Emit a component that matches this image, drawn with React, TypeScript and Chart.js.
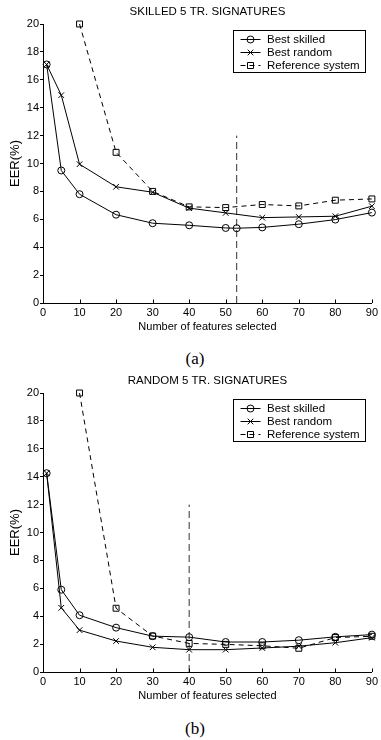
import React, { useEffect, useRef } from 'react';
import { Chart, registerables } from 'chart.js';

Chart.register(...registerables);

// ---------- Data ----------
const skilledTopX = [1, 5, 10, 20, 30, 40, 50, 53, 60, 70, 80, 90];
const skilledTopEER = [17.1, 9.5, 7.8, 6.33, 5.72, 5.57, 5.38, 5.36, 5.42, 5.65, 5.98, 6.48];
const randomTopX = [1, 5, 10, 20, 30, 40, 50, 60, 70, 80, 90];
const randomTopEER = [17.1, 14.9, 9.95, 8.33, 7.94, 6.8, 6.46, 6.12, 6.17, 6.22, 6.94];
const referenceTopX = [10, 20, 30, 40, 50, 60, 70, 80, 90];
const referenceTopEER = [20, 10.8, 8.0, 6.89, 6.84, 7.06, 6.96, 7.37, 7.46];
const selectedTopX = 53;

const skilledBottomX = [1, 5, 10, 20, 30, 40, 50, 60, 70, 80, 90];
const skilledBottomEER = [14.25, 5.9, 4.07, 3.18, 2.57, 2.5, 2.15, 2.15, 2.28, 2.52, 2.68];
const randomBottomX = [1, 5, 10, 20, 30, 40, 50, 60, 70, 80, 90];
const randomBottomEER = [14.25, 4.6, 3.0, 2.22, 1.77, 1.6, 1.6, 1.72, 1.85, 2.1, 2.46];
const referenceBottomX = [10, 20, 30, 40, 50, 60, 70, 80, 90];
const referenceBottomEER = [20, 4.57, 2.58, 2.05, 1.98, 1.88, 1.7, 2.47, 2.56];
const selectedBottomX = 40;

const selectionLineTop = 12;

const seriesLabels = ['Best skilled', 'Best random', 'Reference system'];
const chartTitles = ['SKILLED 5 TR. SIGNATURES', 'RANDOM 5 TR. SIGNATURES'];
const captions = ['(a)', '(b)'];
const xAxisTitle = 'Number of features selected';
const yAxisTitle = 'EER(%)';

// ---------- Styling ----------
const SANS = "'Liberation Sans', Arial, sans-serif";
const SERIF = "'Liberation Serif', 'Times New Roman', serif";
const W = 381;
const H = 340;

function pts(xs: number[], ys: number[]) {
  return xs.map((x, i) => ({ x, y: ys[i] }));
}

function drawMarker(ctx: CanvasRenderingContext2D, style: string, x: number, y: number) {
  ctx.beginPath();
  if (style === 'circle') {
    ctx.arc(x, y, 3.5, 0, Math.PI * 2);
  } else if (style === 'crossRot') {
    const r = 2.8;
    ctx.moveTo(x - r, y - r);
    ctx.lineTo(x + r, y + r);
    ctx.moveTo(x + r, y - r);
    ctx.lineTo(x - r, y + r);
  } else if (style === 'rect') {
    ctx.rect(x - 3, y - 3, 6, 6);
  }
  ctx.stroke();
}

const legendBox = {
  id: 'legendBox',
  afterDatasetsDraw(chart: any) {
    const { ctx, chartArea } = chart;
    const ds = chart.data.datasets.filter((d: any) => d.label);
    const w = 132;
    const h = 42;
    const x0 = Math.round(chartArea.right - 6.5 - w) + 0.5;
    const y0 = Math.round(chartArea.top + 6) + 0.5;
    ctx.save();
    ctx.fillStyle = '#fff';
    ctx.fillRect(x0, y0, w, h);
    ctx.strokeStyle = '#000';
    ctx.lineWidth = 1;
    ctx.strokeRect(x0, y0, w, h);
    ds.forEach((d: any, i: number) => {
      const y = Math.round(y0 + 8 + i * 13.35) + 0.5;
      ctx.setLineDash(d.borderDash || []);
      ctx.beginPath();
      ctx.moveTo(x0 + 7, y);
      ctx.lineTo(x0 + 27, y);
      ctx.stroke();
      ctx.setLineDash([]);
      drawMarker(ctx, d.pointStyle, x0 + 17, y);
      ctx.fillStyle = '#000';
      ctx.font = `11.5px ${SANS}`;
      ctx.textBaseline = 'middle';
      ctx.textAlign = 'left';
      ctx.fillText(d.label, x0 + 33.5, y + 0.5);
    });
    ctx.restore();
  },
};

const inwardXTicks = {
  id: 'inwardXTicks',
  afterDraw(chart: any) {
    const { ctx, chartArea: a, scales } = chart;
    ctx.save();
    ctx.strokeStyle = '#000';
    ctx.lineWidth = 1;
    ctx.beginPath();
    for (const t of scales.x.ticks) {
      const px = Math.round(scales.x.getPixelForValue(t.value)) + 0.5;
      ctx.moveTo(px, a.bottom);
      ctx.lineTo(px, a.bottom - 3.5);
    }
    ctx.stroke();
    ctx.restore();
  },
};

function EERChart(props: {
  title: string;
  skilledX: number[];
  skilledY: number[];
  randomX: number[];
  randomY: number[];
  refX: number[];
  refY: number[];
  selX: number;
}) {
  const ref = useRef<HTMLCanvasElement | null>(null);
  useEffect(() => {
    if (!ref.current) return;
    const base = {
      borderColor: '#000',
      borderWidth: 1,
      pointBorderColor: '#000',
      pointBackgroundColor: 'rgba(0,0,0,0)',
      pointBorderWidth: 1,
      tension: 0,
      clip: false as any,
    };
    const chart = new Chart(ref.current, {
      type: 'line',
      data: {
        datasets: [
          {
            ...base,
            label: seriesLabels[0],
            data: pts(props.skilledX, props.skilledY),
            pointStyle: 'circle',
            pointRadius: 3.5,
          },
          {
            ...base,
            label: seriesLabels[1],
            data: pts(props.randomX, props.randomY),
            pointStyle: 'crossRot',
            pointRadius: 4,
          },
          {
            ...base,
            label: seriesLabels[2],
            data: pts(props.refX, props.refY),
            pointStyle: 'rect',
            pointRadius: 4.2,
            borderDash: [5, 4],
          },
          {
            ...base,
            label: '',
            data: [
              { x: props.selX, y: 0 },
              { x: props.selX, y: selectionLineTop },
            ],
            pointRadius: 0,
            borderColor: '#333',
            borderDash: [7, 4],
          },
        ] as any,
      },
      options: {
        responsive: false,
        animation: false,
        devicePixelRatio: 1,
        layout: { padding: { left: 0, right: 7, top: 0, bottom: 0 } },
        plugins: {
          legend: { display: false },
          tooltip: { enabled: false },
          title: {
            display: true,
            text: props.title,
            fullSize: false,
            color: '#000',
            font: { family: SANS, size: 11.5, weight: 'normal' },
            padding: { top: 4.5, bottom: 5.7 },
          },
        },
        scales: {
          x: {
            type: 'linear',
            min: 0,
            max: 90,
            grid: { display: false, drawTicks: false, tickLength: 0 },
            border: { display: true, color: '#000', width: 1 },
            ticks: {
              stepSize: 10,
              autoSkip: false,
              color: '#000',
              padding: 3,
              maxRotation: 0,
              font: { family: SANS, size: 11 },
            },
            title: {
              display: true,
              text: xAxisTitle,
              color: '#000',
              font: { family: SANS, size: 11 },
              padding: { top: 0, bottom: 6.5 },
            },
            afterFit(scale: any) {
              scale.height = 37;
            },
          },
          y: {
            type: 'linear',
            min: 0,
            max: 20,
            grid: { display: true, drawOnChartArea: false, drawTicks: true, tickLength: 3, color: '#000' },
            border: { display: true, color: '#000', width: 1 },
            ticks: {
              stepSize: 2,
              autoSkip: false,
              color: '#000',
              padding: 1,
              font: { family: SANS, size: 11 },
            },
            title: {
              display: true,
              text: yAxisTitle,
              color: '#000',
              font: { family: SANS, size: 13 },
              padding: { top: 8, bottom: 0 },
            },
            afterFit(scale: any) {
              scale.width = 43;
            },
          },
        },
      } as any,
      plugins: [legendBox, inwardXTicks],
    });
    return () => chart.destroy();
  }, []);
  return <canvas ref={ref} width={W} height={H} style={{ width: W, height: H, display: 'block' }} />;
}

export default function App() {
  return (
    <div style={{ position: 'absolute', left: 0, top: 0, width: W, height: 740, background: '#fff' }}>
      <div style={{ position: 'absolute', left: 0, top: 0 }}>
        <EERChart
          title={chartTitles[0]}
          skilledX={skilledTopX}
          skilledY={skilledTopEER}
          randomX={randomTopX}
          randomY={randomTopEER}
          refX={referenceTopX}
          refY={referenceTopEER}
          selX={selectedTopX}
        />
      </div>
      <div
        style={{
          position: 'absolute',
          left: 145,
          width: 100,
          top: 348,
          textAlign: 'center',
          fontFamily: SERIF,
          fontSize: 17,
          lineHeight: '22px',
        }}
      >
        {captions[0]}
      </div>
      <div style={{ position: 'absolute', left: 0, top: 369 }}>
        <EERChart
          title={chartTitles[1]}
          skilledX={skilledBottomX}
          skilledY={skilledBottomEER}
          randomX={randomBottomX}
          randomY={randomBottomEER}
          refX={referenceBottomX}
          refY={referenceBottomEER}
          selX={selectedBottomX}
        />
      </div>
      <div
        style={{
          position: 'absolute',
          left: 145,
          width: 100,
          top: 718,
          textAlign: 'center',
          fontFamily: SERIF,
          fontSize: 17,
          lineHeight: '22px',
        }}
      >
        {captions[1]}
      </div>
    </div>
  );
}
